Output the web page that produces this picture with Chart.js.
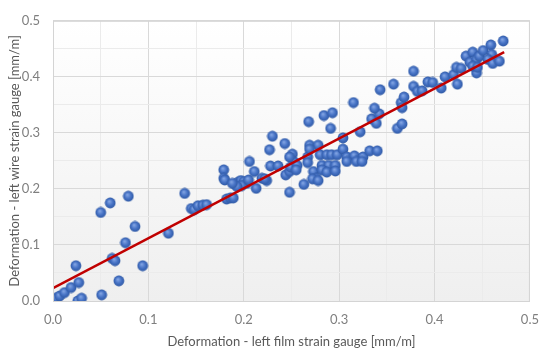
<!DOCTYPE html>
<html>
<head>
<meta charset="utf-8">
<script src="https://cdn.jsdelivr.net/npm/chart.js@4/dist/chart.umd.min.js"></script>
<style>
  body { margin: 0; background: #fff; }
</style>
</head>
<body>
<canvas id="myChart" width="550" height="354"></canvas>
<script>
// film gauge (x) vs wire gauge (y), mm/m
let filmStrain = [
  0.000, 0.001, 0.003, 0.007, 0.012, 0.019, 0.027, 0.024, 0.026, 0.030,
  0.051, 0.050, 0.060, 0.079, 0.086, 0.076, 0.062, 0.065, 0.069, 0.094,
  0.121, 0.138, 0.145, 0.148, 0.152, 0.157, 0.161, 0.179, 0.179, 0.180,
  0.182, 0.186, 0.189, 0.191, 0.194, 0.197, 0.200, 0.203, 0.198, 0.193,
  0.205, 0.188, 0.206, 0.211, 0.213, 0.219, 0.224, 0.222, 0.228, 0.236,
  0.227, 0.230, 0.243, 0.244, 0.248, 0.248, 0.251, 0.253, 0.248, 0.249,
  0.256, 0.255, 0.263, 0.267, 0.267, 0.268, 0.269, 0.278, 0.269, 0.273,
  0.276, 0.272, 0.278, 0.280, 0.287, 0.292, 0.298, 0.282, 0.289, 0.296,
  0.282, 0.287, 0.296, 0.284, 0.293, 0.291, 0.304, 0.304, 0.308, 0.316,
  0.325, 0.332, 0.340, 0.308, 0.318, 0.324, 0.315, 0.322, 0.334, 0.339,
  0.342, 0.337, 0.343, 0.357, 0.361, 0.366, 0.365, 0.368, 0.366, 0.378,
  0.378, 0.382, 0.387, 0.393, 0.398, 0.407, 0.411, 0.420, 0.424, 0.423,
  0.428, 0.433, 0.440, 0.437, 0.444, 0.447, 0.444, 0.451, 0.459, 0.460,
  0.456, 0.461, 0.468, 0.472, 0.440, 0.445
];
let wireStrain = [
  0.000, 0.002, 0.005, 0.009, 0.015, 0.024, 0.033, 0.063, 0.000, 0.005,
  0.011, 0.158, 0.175, 0.187, 0.133, 0.104, 0.076, 0.072, 0.036, 0.063,
  0.121, 0.192, 0.165, 0.163, 0.170, 0.171, 0.172, 0.234, 0.219, 0.216,
  0.182, 0.184, 0.184, 0.208, 0.212, 0.215, 0.213, 0.210, 0.206, 0.204,
  0.216, 0.210, 0.249, 0.231, 0.201, 0.219, 0.215, 0.218, 0.241, 0.241,
  0.270, 0.294, 0.281, 0.225, 0.231, 0.194, 0.262, 0.248, 0.257, 0.239,
  0.242, 0.234, 0.208, 0.257, 0.247, 0.320, 0.278, 0.278, 0.271, 0.231,
  0.219, 0.218, 0.215, 0.261, 0.261, 0.261, 0.261, 0.242, 0.242, 0.242,
  0.234, 0.230, 0.232, 0.331, 0.336, 0.308, 0.291, 0.271, 0.257, 0.259,
  0.257, 0.268, 0.268, 0.249, 0.249, 0.249, 0.354, 0.302, 0.325, 0.317,
  0.334, 0.344, 0.377, 0.387, 0.308, 0.316, 0.354, 0.364, 0.345, 0.410,
  0.383, 0.374, 0.375, 0.391, 0.390, 0.380, 0.400, 0.404, 0.387, 0.417,
  0.415, 0.437, 0.444, 0.426, 0.431, 0.437, 0.407, 0.447, 0.457, 0.440,
  0.431, 0.424, 0.428, 0.464, 0.419, 0.417
];
// linear trendline end points
let trendX = [0, 0.473];
let trendY = [0.023, 0.444];

let xTitle = 'Deformation - left film strain gauge [mm/m]';
let yTitle = 'Deformation - left wire strain gauge [mm/m]';
let fontFam = "Lato, 'Open Sans', sans-serif";

// shaded ball marker
let ball = document.createElement('canvas');
ball.width = 12; ball.height = 12;
let bctx = ball.getContext('2d');
let grad = bctx.createRadialGradient(5, 4.5, 0.5, 6, 6, 5.6);
grad.addColorStop(0, '#7fa2e2');
grad.addColorStop(0.5, '#4874c6');
grad.addColorStop(1, '#2d57a3');
bctx.fillStyle = grad;
bctx.beginPath();
bctx.arc(6, 6, 5.4, 0, Math.PI * 2);
bctx.fill();

let plotBack = {
  id: 'plotBack',
  beforeDraw(chart) {
    let a = chart.chartArea, c = chart.ctx;
    let g = c.createLinearGradient(0, a.top, 0, a.bottom);
    g.addColorStop(0, '#ffffff');
    g.addColorStop(1, '#efefef');
    c.save();
    c.fillStyle = g;
    c.fillRect(a.left, a.top, a.right - a.left, a.bottom - a.top);
    c.restore();
  },
  afterDatasetsDraw(chart) {
    let a = chart.chartArea, c = chart.ctx;
    c.save();
    c.strokeStyle = '#d4d4d4';
    c.lineWidth = 1;
    c.strokeRect(a.left + 0.5, a.top + 0.5, a.right - a.left - 1, a.bottom - a.top);
    c.restore();
  }
};

let points = filmStrain.map((v, i) => ({ x: v, y: wireStrain[i] }));
let trend = trendX.map((v, i) => ({ x: v, y: trendY[i] }));

let ctx = document.getElementById('myChart').getContext('2d');
let myChart = new Chart(ctx, {
  type: 'scatter',
  data: {
    datasets: [{
      type: 'line',
      data: trend,
      borderColor: '#c00000',
      borderWidth: 2.5,
      pointRadius: 0,
      fill: false,
      order: 0
    }, {
      data: points,
      pointStyle: ball,
      pointRadius: 6,
      order: 1
    }]
  },
  options: {
    responsive: false,
    animation: false,
    layout: { padding: { top: 10, right: 12, left: 0, bottom: 0 } },
    plugins: {
      legend: { display: false },
      tooltip: { enabled: false }
    },
    scales: {
      x: {
        type: 'linear',
        min: 0, max: 0.5,
        afterFit(scale) { scale.height = 53; },
        border: { display: false },
        grid: {
          drawTicks: false,
          color: (c) => c.index % 2 === 0 ? '#d9d9d9' : '#ebebeb'
        },
        ticks: {
          stepSize: 0.05,
          autoSkip: false,
          maxRotation: 0,
          padding: 11,
          color: '#7f7f7f',
          font: { size: 13, family: fontFam },
          callback: (v, i) => i % 2 === 0 ? v.toFixed(1) : ''
        },
        title: {
          display: true,
          text: xTitle,
          color: '#595959',
          padding: { top: 4, bottom: 4 },
          font: { size: 13, family: fontFam }
        }
      },
      y: {
        type: 'linear',
        min: 0, max: 0.5,
        afterFit(scale) { scale.width = 53; },
        border: { display: false },
        grid: {
          drawTicks: false,
          color: (c) => c.index % 2 === 0 ? '#d9d9d9' : '#ebebeb'
        },
        ticks: {
          stepSize: 0.05,
          autoSkip: false,
          padding: 13,
          color: '#7f7f7f',
          font: { size: 13, family: fontFam },
          callback: (v, i) => i % 2 === 0 ? v.toFixed(1) : ''
        },
        title: {
          display: true,
          text: yTitle,
          color: '#595959',
          padding: { top: 7, bottom: 4 },
          font: { size: 13, family: fontFam }
        }
      }
    }
  },
  plugins: [plotBack]
});
</script>
</body>
</html>
